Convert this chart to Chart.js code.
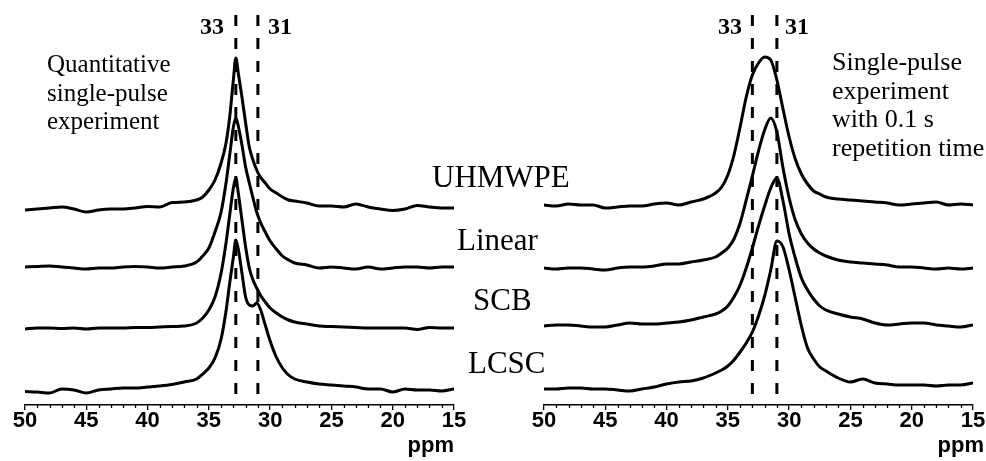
<!DOCTYPE html>
<html>
<head>
<meta charset="utf-8">
<script src="https://cdn.jsdelivr.net/npm/chart.js@4.4.1/dist/chart.umd.min.js"></script>
<style>
  body { margin: 0; width: 986px; height: 461px; overflow: hidden; background: #fff; position: relative; }
  canvas { position: absolute; top: 0; }
  .t { position: absolute; font-family: "Liberation Serif", "Times New Roman", serif; color: #000; white-space: nowrap; }
  .peak { font-size: 24px; line-height: 24px; font-weight: bold; }
  .note { font-size: 25px; line-height: 28.5px; }
  .name { font-size: 31px; line-height: 31px; }
  .unit { position: absolute; font-family: "Liberation Sans", Arial, sans-serif; font-weight: bold; font-size: 22px; line-height: 22px; text-align: right; width: 60px; }
</style>
</head>
<body>
<canvas id="left" width="493" height="461" style="left:0"></canvas>
<canvas id="right" width="500" height="461" style="left:490px"></canvas>

<div class="t peak" style="left:200px; top:14px">33</div>
<div class="t peak" style="left:268px; top:14px">31</div>
<div class="t peak" style="left:718px; top:14px">33</div>
<div class="t peak" style="left:785px; top:14px">31</div>

<div class="t note" style="left:47px; top:50px">Quantitative<br>single-pulse<br>experiment</div>
<div class="t note" style="left:832px; top:48px; font-size:26px">Single-pulse<br>experiment<br>with 0.1 s<br>repetition time</div>

<div class="t name" style="left:432px; top:161px">UHMWPE</div>
<div class="t name" style="left:457px; top:224px">Linear</div>
<div class="t name" style="left:473px; top:284px">SCB</div>
<div class="t name" style="left:468px; top:347px">LCSC</div>

<div class="unit" style="left:394px; top:434px">ppm</div>
<div class="unit" style="left:924px; top:434px">ppm</div>

<script>
// tick labels (ppm)
const TICK_VALUES = [50, 45, 40, 35, 30, 25, 20, 15];
const SAMPLES = ["UHMWPE", "Linear", "SCB", "LCSC"];

// left panel: quantitative single-pulse
const L_PPM = [50, 49, 48, 47, 46, 45, 44, 43, 42, 41, 40, 39, 38, 37, 36, 35.5, 35, 34.5, 34, 33.6, 33.3, 33.0, 32.8, 32.6, 32.3, 32.0, 31.7, 31.4, 31.1, 30.8, 30.4, 30.0, 29.5, 29, 28.5, 28, 27, 26, 25, 24, 23, 22, 21, 20, 19, 18, 17, 16, 15];
const L_UHMWPE = [-2, -1, 0, 1, -1, -4, -2, -1, -1, 0, 1.5, 1, 5.5, 6, 8, 11, 18, 28, 45, 65, 91, 128, 150, 135, 111, 85, 61, 48, 38, 31, 25, 19, 15, 11, 8, 7, 5, 2, 2, 1, 4, 1, -1, -2.5, -1, 2.5, 1, 0, 0];
const L_LINEAR = [0, 0.5, 1, 0, -1, -2, -1, -1, 0, 0.5, 0, -1, 0, 1, 5, 11, 19, 35, 55, 84, 112, 140, 149, 141, 122, 100, 84, 69, 55, 45, 35, 26, 18, 11, 7, 4, 2, -1, 0, -1, -2, 0, -2, -1, 0, 0, -1, 0, 0];
const L_SCB = [-1, 0, 0, -0.5, 0, -1, 0, 0, 0, 0.5, 0.5, 1, 1.5, 2, 5, 10, 18, 31, 55, 85, 113, 140, 150, 135, 108, 81, 60, 48, 40, 33, 26, 20, 15, 11, 8, 6, 4, 2, 1.5, 1, 0.5, 0, 0, 0, 0, -1.5, 0.5, 0, 0];
const L_LCSC = [-2.5, -3, -4, 0, -1, -4, -1, 0, 1, 1, 2, 3, 4.5, 7, 10, 15, 21, 31, 50, 78, 106, 132, 149, 140, 116, 92, 84, 83, 86, 80, 64, 48, 32, 21, 14, 10, 7, 5, 4, 3, 2, 0, 0, -3, 0, -1, -1, -2, 0];
const L_OFFSETS = [180, 121, 60, -1];
const L_MARKERS = [32.8, 31.0];

// right panel: single-pulse with 0.1 s repetition time
const R_PPM = [50, 49, 48, 47, 46, 45, 44, 43, 42, 41, 40, 39, 38, 37, 36, 35.5, 35, 34.5, 34, 33.5, 33, 32.5, 32, 31.5, 31, 30.5, 30, 29.5, 29, 28.5, 28, 27.5, 27, 26, 25, 24, 23, 22, 21, 20, 19, 18, 17, 16, 15];
const R_UHMWPE = [0, -1, 1, 0, 0, -3, -2, -1, -1, 1, 2, 0, 3, 6, 12, 18, 30, 50, 78, 108, 130, 142, 148, 145, 125, 96, 68, 46, 31, 21, 14, 11, 8, 6, 5, 4, 3, 2, 0, 1, 2, 3, 0, 1, 0];
const R_LINEAR = [0, -1, 0, 0, -1, -2, 0, 1, 1, 2, 4, 4, 6, 8, 11, 15, 20, 29, 45, 68, 92, 117, 138, 150, 136, 100, 70, 48, 34, 25, 19, 15, 12, 8, 6, 5, 4, 3, 1, 1, 0, -1, 0, -1, 0];
const R_SCB = [0, 1, 1, 0, -1, -1, 1, 3, 2, 2, 3, 4, 6, 9, 12, 15, 20, 29, 41, 58, 78, 100, 120, 138, 148, 125, 92, 68, 48, 36, 27, 20, 16, 12, 9, 7, 3, 1, 2, 3, 3, 1, 0, -1, 1];
const R_LCSC = [-1, -1, 0, 0, -1, -1, -2, -3, -1, 1, 4, 6, 7, 10, 15, 18, 22, 28, 36, 45, 56, 72, 92, 118, 147, 141, 118, 90, 62, 40, 29, 21, 17, 10, 6, 9, 5, 4, 3, 3, 3, 2, 3, 3, 5];
const R_OFFSETS = [183, 120, 62, 0];
const R_MARKERS = [33.0, 31.0];

const Y_MIN = -17;
const Y_MAX = 373;

const minorTicks = {
  id: "minorTicks",
  afterDraw(chart) {
    const s = chart.scales.x;
    const ctx = chart.ctx;
    ctx.save();
    ctx.strokeStyle = "#000";
    ctx.lineWidth = 1.3;
    for (let v = s.min; v <= s.max; v += 1) {
      if (v % 5 === 0) continue;
      const px = Math.round(s.getPixelForValue(v)) + 0.5;
      ctx.beginPath();
      ctx.moveTo(px, s.top);
      ctx.lineTo(px, s.top + 3);
      ctx.stroke();
    }
    ctx.restore();
  },
};

function makeChart(id, ppm, series, offsets, markers, padding) {
  const datasets = series.map((vals, i) => ({
    label: SAMPLES[i],
    data: ppm.map((p, j) => ({ x: p, y: vals[j] + offsets[i] })),
    borderColor: "#000",
    borderWidth: 3,
    pointRadius: 0,
    cubicInterpolationMode: "monotone",
    fill: false,
  }));
  markers.forEach((m) => {
    datasets.push({
      label: m + " ppm",
      data: [{ x: m, y: Y_MAX }, { x: m, y: Y_MIN }],
      borderColor: "#000",
      borderWidth: 3,
      borderDash: [11, 12],
      pointRadius: 0,
      tension: 0,
    });
  });

  return new Chart(document.getElementById(id).getContext("2d"), {
    type: "line",
    data: { datasets },
    plugins: [minorTicks],
    options: {
      responsive: false,
      animation: false,
      devicePixelRatio: 1,
      layout: { padding },
      plugins: { legend: { display: false }, tooltip: { enabled: false } },
      scales: {
        x: {
          type: "linear",
          reverse: true,
          min: 15,
          max: 50,
          afterFit: (s) => { s.height = 56; },
          afterBuildTicks: (s) => { s.ticks = TICK_VALUES.map((v) => ({ value: v })); },
          ticks: {
            color: "#000",
            padding: -2,
            maxRotation: 0,
            autoSkip: false,
            font: { family: "'Liberation Sans', Arial, sans-serif", weight: "bold", size: 22 },
          },
          grid: { drawOnChartArea: false, drawTicks: true, tickLength: 5, color: "#000", lineWidth: 1.3 },
          border: { display: true, color: "#000", width: 1.5 },
        },
        y: { display: false, min: Y_MIN, max: Y_MAX },
      },
    },
  });
}

makeChart("left", L_PPM, [L_UHMWPE, L_LINEAR, L_SCB, L_LCSC], L_OFFSETS, L_MARKERS,
  { left: 25, right: 39, top: 15, bottom: 0 });
makeChart("right", R_PPM, [R_UHMWPE, R_LINEAR, R_SCB, R_LCSC], R_OFFSETS, R_MARKERS,
  { left: 54, right: 17, top: 15, bottom: 0 });
</script>
</body>
</html>
